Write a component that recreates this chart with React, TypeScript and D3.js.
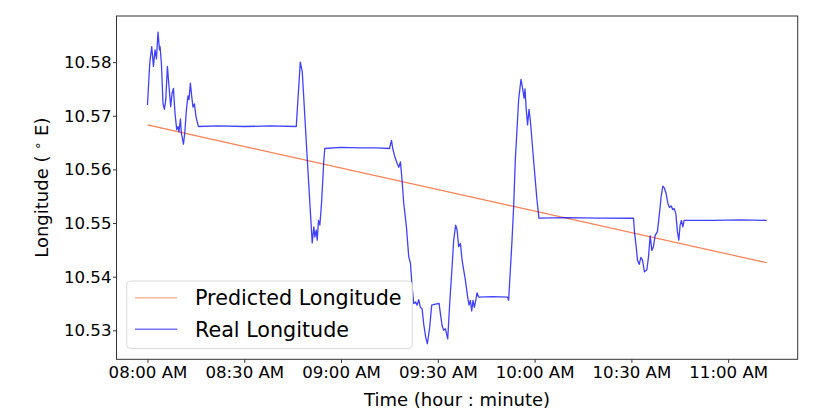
import React, { useRef, useEffect } from "react";
import * as d3 from "d3";

// minutes after 08:00 and longitude
const realMinutes = [
  0, 0.71, 1.33, 1.86, 2.35, 2.79, 3.28, 3.72, 3.9, 4.33, 4.83, 5.26, 5.67, 6.19, 6.59, 7.21, 7.62, 8.05,
  8.54, 9.07, 9.47, 9.78, 10.22, 10.53, 10.84, 11.15, 11.55, 12.07, 12.57, 12.88, 13.31, 13.72, 14.12,
  14.55, 15.05, 15.79, 22, 30, 38, 46.13, 47.37, 47.99, 49.54, 51.08, 51.58, 51.89, 52.32, 52.63, 53.03,
  53.44, 53.96, 54.67, 54.98, 59.85, 66, 71, 75.02, 75.64, 76.04, 76.66, 77.4, 77.9, 78.42, 78.95, 79.44,
  80.28, 80.99, 81.52, 82.04, 82.54, 83.07, 83.59, 84.09, 84.61, 85.14, 85.63, 86.25, 86.78, 87.49,
  88.11, 89.26, 90.4, 90.81, 91.33, 91.83, 92.35, 93.07, 93.69, 94.43, 94.93, 95.54, 95.98, 96.47, 97.0,
  97.52, 98.55, 99.26, 99.69, 100.1, 100.5, 100.93, 101.33, 101.86, 102.17, 102.66, 107, 111.64, 111.95,
  113.0, 113.5, 114.03, 115.05, 115.79, 116.29, 116.72, 117.03, 117.43, 117.83, 118.27, 118.67, 119.69,
  120.74, 121.36, 130, 140, 150.65, 150.96, 151.49, 151.89, 152.42, 152.94, 153.44, 154.06, 154.8,
  155.3, 155.82, 156.35, 156.84, 157.37, 158.08, 158.7, 159.23, 159.75, 160.25, 160.78, 161.3, 161.8,
  162.32, 162.85, 163.25, 163.78, 164.27, 164.71, 165.11, 165.51, 165.95, 166.35, 175, 184, 191.95,
];

const realLongitude = [
  10.572, 10.5798, 10.5829, 10.5792, 10.5823, 10.5806, 10.5856, 10.5823, 10.5829, 10.5798, 10.5723,
  10.5712, 10.573, 10.5792, 10.5761, 10.5717, 10.5742, 10.5751, 10.5705, 10.5674, 10.568, 10.567,
  10.5694, 10.5667, 10.5658, 10.5647, 10.5667, 10.5711, 10.5737, 10.573, 10.5761, 10.5736, 10.5716,
  10.5722, 10.5698, 10.568, 10.5681, 10.5680, 10.5681, 10.568, 10.58, 10.5782, 10.5619, 10.5463,
  10.5493, 10.5474, 10.5487, 10.5468, 10.5505, 10.5496, 10.5537, 10.5617, 10.5639, 10.5641, 10.5640,
  10.5640, 10.5639, 10.5654, 10.5639, 10.5624, 10.5611, 10.5604, 10.5614, 10.5577, 10.5537, 10.5493,
  10.5437, 10.5425, 10.5381, 10.535, 10.5353, 10.5347, 10.5357, 10.5343, 10.534, 10.5312, 10.5287,
  10.5275, 10.5306, 10.5347, 10.5349, 10.535, 10.5331, 10.5309, 10.53, 10.5303, 10.5284, 10.535,
  10.5418, 10.5468, 10.5496, 10.5487, 10.5456, 10.5462, 10.5431, 10.5393, 10.5362, 10.5347, 10.5356,
  10.5336, 10.5356, 10.5343, 10.5359, 10.537, 10.5362, 10.5363, 10.5362, 10.5356, 10.5468, 10.553,
  10.5617, 10.573, 10.5768, 10.5751, 10.5733, 10.575, 10.5711, 10.5683, 10.5712, 10.5692, 10.5617,
  10.5543, 10.5509, 10.5510, 10.5509, 10.5509, 10.5484, 10.5456, 10.5431, 10.5423, 10.5436, 10.5431,
  10.5409, 10.5413, 10.5437, 10.5476, 10.5449, 10.5456, 10.5477, 10.5484, 10.5518, 10.5549, 10.5569,
  10.5565, 10.5555, 10.5537, 10.5529, 10.5532, 10.5525, 10.5527, 10.5518, 10.5484, 10.5468, 10.5496,
  10.5505, 10.5493, 10.5505, 10.5505, 10.5506, 10.5505,
];

const predictedMinutes = [0, 191.95];
const predictedLongitude = [10.5683, 10.5426];

const yTicks = [10.53, 10.54, 10.55, 10.56, 10.57, 10.58];
const xTickMinutes = [0, 30, 60, 90, 120, 150, 180];

const seriesNames = ["Predicted Longitude", "Real Longitude"];
const seriesColors = ["#ff7f50", "#0000ff"];

const toDate = (m: number) => new Date(2024, 0, 1, 8, 0, m * 60);

const W = 831;
const H = 411;
const margin = { top: 16, right: 33.3, bottom: 51.7, left: 116.5 };
const FONT = "DejaVu Sans, sans-serif";

const App = () => {
  const svgRef = useRef<SVGSVGElement>(null);

  useEffect(() => {
    const svg = d3.select(svgRef.current);
    svg.selectAll("*").remove();

    const x = d3.scaleTime()
      .domain([toDate(-9.6), toDate(201.55)])
      .range([margin.left, W - margin.right]);
    const y = d3.scaleLinear()
      .domain([10.5246, 10.5886])
      .range([H - margin.bottom, margin.top]);

    svg.append("rect").attr("width", W).attr("height", H).attr("fill", "#fff");

    // lines
    const line = d3.line<[number, number]>()
      .x(d => x(toDate(d[0])))
      .y(d => y(d[1]));

    const predicted: [number, number][] = predictedMinutes.map((m, i) => [m, predictedLongitude[i]]);
    const real: [number, number][] = realMinutes.map((m, i) => [m, realLongitude[i]]);

    const clip = svg.append("clipPath").attr("id", "plot-clip")
      .append("rect")
      .attr("x", margin.left).attr("y", margin.top)
      .attr("width", W - margin.left - margin.right)
      .attr("height", H - margin.top - margin.bottom);

    const plot = svg.append("g").attr("clip-path", "url(#plot-clip)");
    plot.append("path")
      .datum(predicted)
      .attr("d", line)
      .attr("fill", "none")
      .attr("stroke", seriesColors[0])
      .attr("stroke-width", 1.2);
    plot.append("path")
      .datum(real)
      .attr("d", line)
      .attr("fill", "none")
      .attr("stroke", seriesColors[1])
      .attr("stroke-opacity", 0.75)
      .attr("stroke-width", 1.3)
      .attr("stroke-linejoin", "round");

    // axes
    const xAxis = svg.append("g")
      .attr("transform", `translate(0,${H - margin.bottom})`)
      .call(d3.axisBottom(x)
        .tickValues(xTickMinutes.map(toDate))
        .tickFormat(d => d3.timeFormat("%I:%M %p")(d as Date))
        .tickSize(3.5)
        .tickPadding(3));
    const yAxis = svg.append("g")
      .attr("transform", `translate(${margin.left},0)`)
      .call(d3.axisLeft(y)
        .tickValues(yTicks)
        .tickFormat(d3.format(".2f"))
        .tickSize(3.5)
        .tickPadding(1.5));

    [xAxis, yAxis].forEach(g => {
      g.select(".domain").remove();
      g.selectAll(".tick line").attr("stroke", "#333").attr("stroke-width", 1);
      g.selectAll(".tick text")
        .attr("fill", "#000")
        .style("font-family", FONT)
        .style("font-size", "16.6px");
    });

    // frame
    svg.append("rect")
      .attr("x", margin.left)
      .attr("y", margin.top)
      .attr("width", W - margin.left - margin.right)
      .attr("height", H - margin.top - margin.bottom)
      .attr("fill", "none")
      .attr("stroke", "#333")
      .attr("stroke-width", 1);

    // axis labels
    svg.append("text")
      .attr("x", (margin.left + W - margin.right) / 2)
      .attr("y", 406)
      .attr("text-anchor", "middle")
      .style("font-family", FONT)
      .style("font-size", "18px")
      .text("Time (hour : minute)");

    const yl = svg.append("text")
      .attr("transform", `translate(48,${(margin.top + H - margin.bottom) / 2}) rotate(-90)`)
      .attr("text-anchor", "middle")
      .style("font-family", FONT)
      .style("font-size", "18px");
    yl.append("tspan").text("Longitude ( ");
    yl.append("tspan").attr("dy", -6).style("font-size", "13px").text("∘");
    yl.append("tspan").attr("dy", 6).text(" E)");

    // legend
    const lg = svg.append("g");
    lg.append("rect")
      .attr("x", 126.7).attr("y", 281)
      .attr("width", 285.6).attr("height", 67.6)
      .attr("rx", 4)
      .attr("fill", "#fff").attr("fill-opacity", 0.8)
      .attr("stroke", "#d9d9d9").attr("stroke-width", 1);
    seriesNames.forEach((name, i) => {
      const cy = 297.7 + i * 31.6;
      lg.append("line")
        .attr("x1", 135).attr("x2", 177.3)
        .attr("y1", cy).attr("y2", cy)
        .attr("stroke", seriesColors[i])
        .attr("stroke-opacity", 0.55)
        .attr("stroke-width", 1.6);
      lg.append("text")
        .attr("x", 195)
        .attr("y", cy + 7.4)
        .style("font-family", FONT)
        .style("font-size", "20.7px")
        .attr("fill", "#000")
        .text(name);
    });
  }, []);

  return (
    <svg
      ref={svgRef}
      width={W}
      height={H}
      style={{ position: "absolute", left: 0, top: 0, display: "block" }}
    />
  );
};

export default App;
